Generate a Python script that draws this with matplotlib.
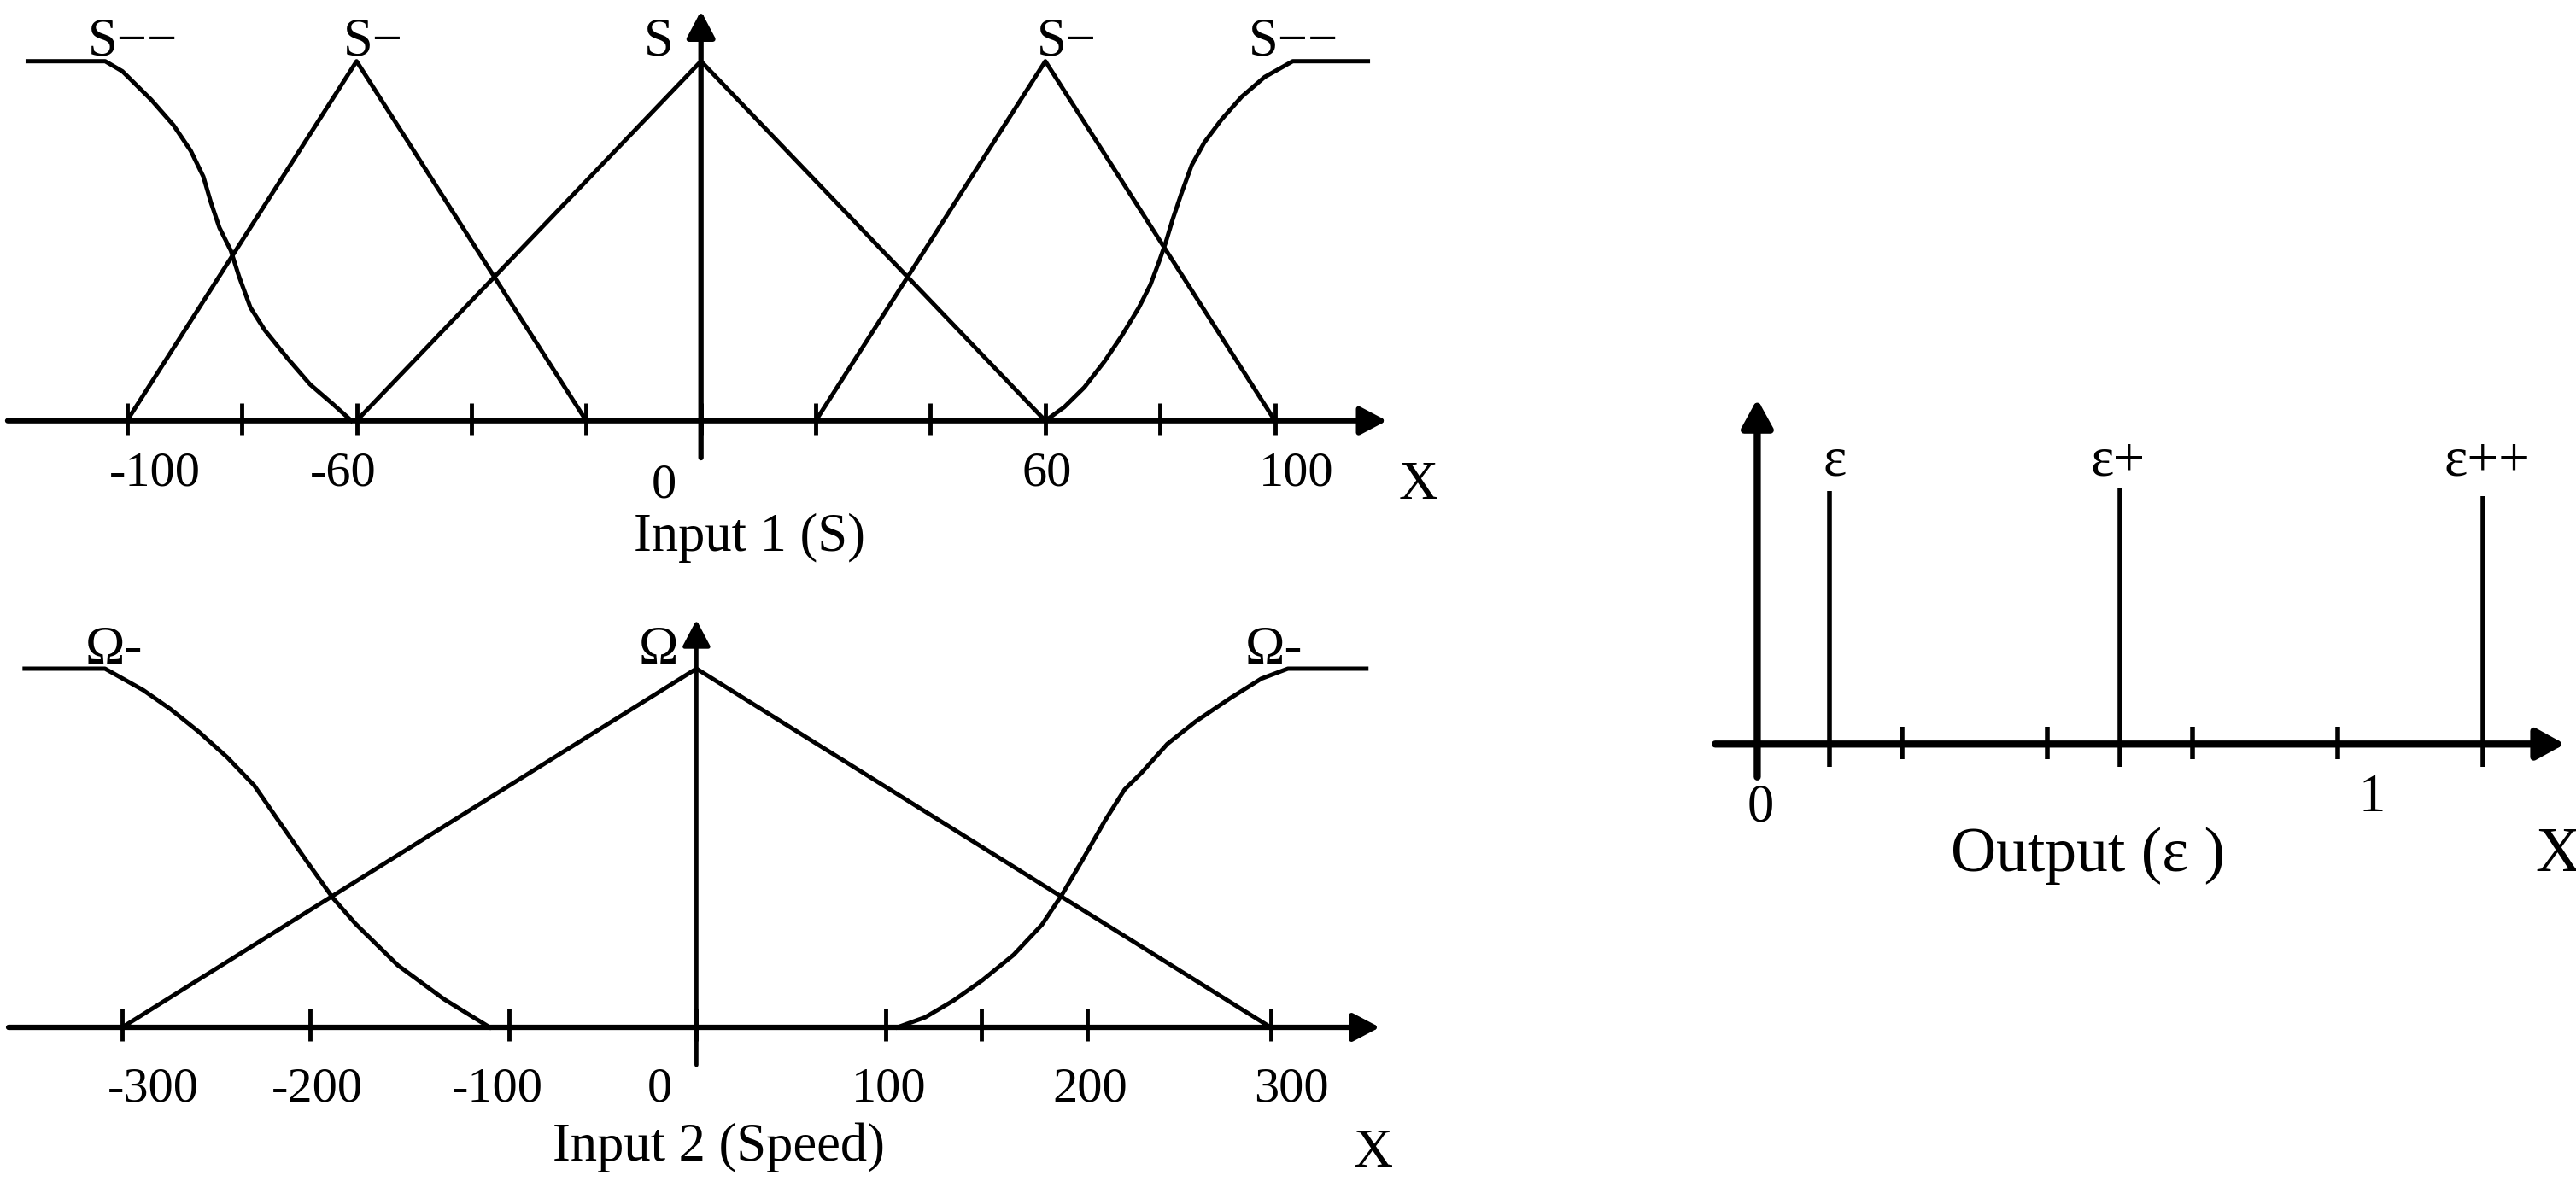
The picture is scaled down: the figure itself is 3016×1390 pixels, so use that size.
"""Fuzzy membership sketch: Input 1 (S), Input 2 (Speed) and the singleton Output (eps)."""

import matplotlib

matplotlib.use("Agg")
import matplotlib.pyplot as plt  # noqa: E402
from matplotlib.patches import FancyArrowPatch  # noqa: E402

plt.rcParams["font.family"] = ["Liberation Serif", "DejaVu Serif"]

INK = "black"

# ---- Input 1 (S) -------------------------------------------------------
S_TICKS = [-100, -80, -60, -40, -20, 0, 20, 40, 60, 80, 100]
S_TICK_LABELS = ["-100", "-60", "0", "60", "100"]
S_NAMES = ["S\u2212\u2212", "S\u2212", "S", "S\u2212", "S\u2212\u2212"]

S_NEG_X, S_NEG_Y = [-100, -60, -20], [0, 1, 0]
S_ZERO_X, S_ZERO_Y = [-60, 0, 60], [0, 1, 0]
S_POS_X, S_POS_Y = [20, 60, 100], [0, 1, 0]

S_LEFT_X = [-117.3, -103.8, -100.8, -95.8, -91.9, -88.9, -86.7, -85.4, -83.9,
            -81.9, -80.5, -78.5, -76.0, -72.0, -68.1, -64.1, -60.9]
S_LEFT_Y = [1, 1, 0.972, 0.893, 0.822, 0.751, 0.679, 0.608, 0.537,
            0.473, 0.402, 0.315, 0.252, 0.173, 0.101, 0.046, 0]
S_RIGHT_X = [60, 63.3, 66.8, 70.3, 73.3, 76.3, 78.3, 79.8, 81.0, 82.2,
             83.7, 85.5, 87.7, 90.7, 94.2, 98.2, 103.1, 116.2]
S_RIGHT_Y = [0, 0.038, 0.093, 0.165, 0.236, 0.315, 0.378, 0.442, 0.497, 0.561,
             0.632, 0.711, 0.774, 0.838, 0.901, 0.956, 1, 1]

# ---- Input 2 (Speed) ---------------------------------------------------
W_TICKS = [-300, -202, -98, 0, 99, 149, 204, 300]
W_TICK_LABELS = ["-300", "-200", "-100", "0", "100", "200", "300"]
W_NAMES = ["\u03a9-", "\u03a9", "\u03a9-"]

W_ZERO_X, W_ZERO_Y = [-300, 0, 300], [0, 1, 0]
W_LEFT_X = [-351, -309, -289, -275, -260, -245, -231, -219, -204, -190,
            -178, -156, -132, -108]
W_LEFT_Y = [1, 1, 0.94, 0.888, 0.824, 0.752, 0.674, 0.581, 0.466, 0.361,
            0.288, 0.173, 0.079, 0]
W_RIGHT_X = [105, 119.5, 134.4, 149.3, 165.7, 180.5, 190.9, 201.4, 213.3,
             223.7, 232.6, 246, 260.9, 278.7, 295.1, 309, 350]
W_RIGHT_Y = [0, 0.028, 0.075, 0.131, 0.202, 0.286, 0.369, 0.464, 0.575,
             0.663, 0.71, 0.79, 0.853, 0.917, 0.972, 1, 1]

# ---- Output (eps) ------------------------------------------------------
E_TICKS = [0.2, 0.4, 0.6, 0.8]
E_POS = [0.1, 0.5, 1.0]
E_HEIGHT = [1.0, 1.01, 0.98]
E_NAMES = ["\u03b5", "\u03b5+", "\u03b5++"]
E_TICK_LABELS = ["0", "1"]


def _arrow(ax, p0, p1, lw, hl, hw):
    ax.add_patch(
        FancyArrowPatch(
            p0,
            p1,
            arrowstyle=f"-|>,head_length={hl},head_width={hw}",
            mutation_scale=1,
            lw=lw,
            color=INK,
            shrinkA=0,
            shrinkB=0,
            zorder=3,
        )
    )


def _frame(fig, px, py, pw, ph, xlim, ylim):
    # axes placed in reference pixels (3016 x 1390 canvas)
    ax = fig.add_axes([px / 3016, 1 - (py + ph) / 1390, pw / 3016, ph / 1390])
    ax.set_xlim(*xlim)
    ax.set_ylim(*ylim)
    ax.axis("off")
    return ax


def panel_s(ax):
    lw_mf = 3.6
    for x, y in [(S_NEG_X, S_NEG_Y), (S_ZERO_X, S_ZERO_Y), (S_POS_X, S_POS_Y),
                 (S_LEFT_X, S_LEFT_Y), (S_RIGHT_X, S_RIGHT_Y)]:
        ax.plot(x, y, color=INK, lw=lw_mf, solid_joinstyle="round", zorder=2)
    ax.vlines(S_TICKS, -0.038, 0.05, color=INK, lw=3.5, zorder=2)
    _arrow(ax, (-120.8, 0), (119.5, 0), 4.5, 19, 10)
    _arrow(ax, (0, -0.103), (0, 1.14), 4.5, 19, 10)

    for name, x in zip(S_NAMES, [-106.8, -62.4, -10, 58.5, 95.4]):
        ax.text(x, 1.016, name, ha="left", va="baseline", fontsize=45)
    for lab, x, y in zip(S_TICK_LABELS, [-95.1, -62.4, -6.4, 60.2, 103.7],
                         [-0.18, -0.18, -0.214, -0.181, -0.181]):
        ax.text(x, y, lab, ha="center", va="baseline", fontsize=42)
    ax.text(125, -0.217, "X", ha="center", va="baseline", fontsize=46)
    ax.text(8.4, -0.362, "Input 1 (S)", ha="center", va="baseline", fontsize=45)


def panel_speed(ax):
    lw_mf = 3.6
    for x, y in [(W_ZERO_X, W_ZERO_Y), (W_LEFT_X, W_LEFT_Y), (W_RIGHT_X, W_RIGHT_Y)]:
        ax.plot(x, y, color=INK, lw=lw_mf, solid_joinstyle="round", zorder=2)
    ax.vlines(W_TICKS, -0.038, 0.052, color=INK, lw=3.5, zorder=2)
    _arrow(ax, (-359.4, 0), (357, 0), 4.5, 19, 10)
    _arrow(ax, (0, -0.105), (0, 1.136), 3.4, 19, 10)

    for name, x in zip(W_NAMES, [-319.2, -30, 286.8]):
        ax.text(x, 1.014, name, ha="left", va="baseline", fontsize=45)
    for lab, x in zip(W_TICK_LABELS, [-284, -198, -103.8, -19.1, 100.6, 205.8, 311]):
        ax.text(x, -0.207, lab, ha="center", va="baseline", fontsize=42)
    ax.text(353.5, -0.388, "X", ha="center", va="baseline", fontsize=46)
    ax.text(11.6, -0.371, "Input 2 (Speed)", ha="center", va="baseline", fontsize=45)


def panel_output(ax):
    ax.vlines(E_POS, -0.09, E_HEIGHT, color=INK, lw=4.0, zorder=2)
    ax.vlines(E_TICKS, -0.061, 0.068, color=INK, lw=4.0, zorder=2)
    _arrow(ax, (-0.058, 0), (1.1125, 0), 6, 20, 11)
    _arrow(ax, (0, -0.13), (0, 1.365), 6, 20, 11)

    for name, x in zip(E_NAMES, [0.107, 0.497, 1.005]):
        ax.text(x, 1.062, name, ha="center", va="baseline", fontsize=47)
    for lab, x, y in zip(E_TICK_LABELS, [0.004, 0.847], [-0.306, -0.265]):
        ax.text(x, y, lab, ha="center", va="baseline", fontsize=45)
    ax.text(0.456, -0.503, "Output (\u03b5 )", ha="center", va="baseline", fontsize=53)
    ax.text(1.103, -0.503, "X", ha="center", va="baseline", fontsize=53)


def main():
    fig = plt.figure(figsize=(30.16, 13.90), dpi=100)
    fig.patch.set_facecolor("white")

    ax_s = _frame(fig, 0, 0, 1700, 700, (-122.13, 130.85), (-0.4924, 1.1703))
    ax_w = _frame(fig, 0, 700, 1700, 690, (-363.86, 394.74), (-0.4452, 1.1976))
    ax_e = _frame(fig, 1950, 400, 1066, 700, (-0.1264, 1.1278), (-0.7726, 1.592))

    panel_s(ax_s)
    panel_speed(ax_w)
    panel_output(ax_e)

    fig.savefig("out.png", dpi=100)
    plt.close(fig)


if __name__ == "__main__":
    main()
